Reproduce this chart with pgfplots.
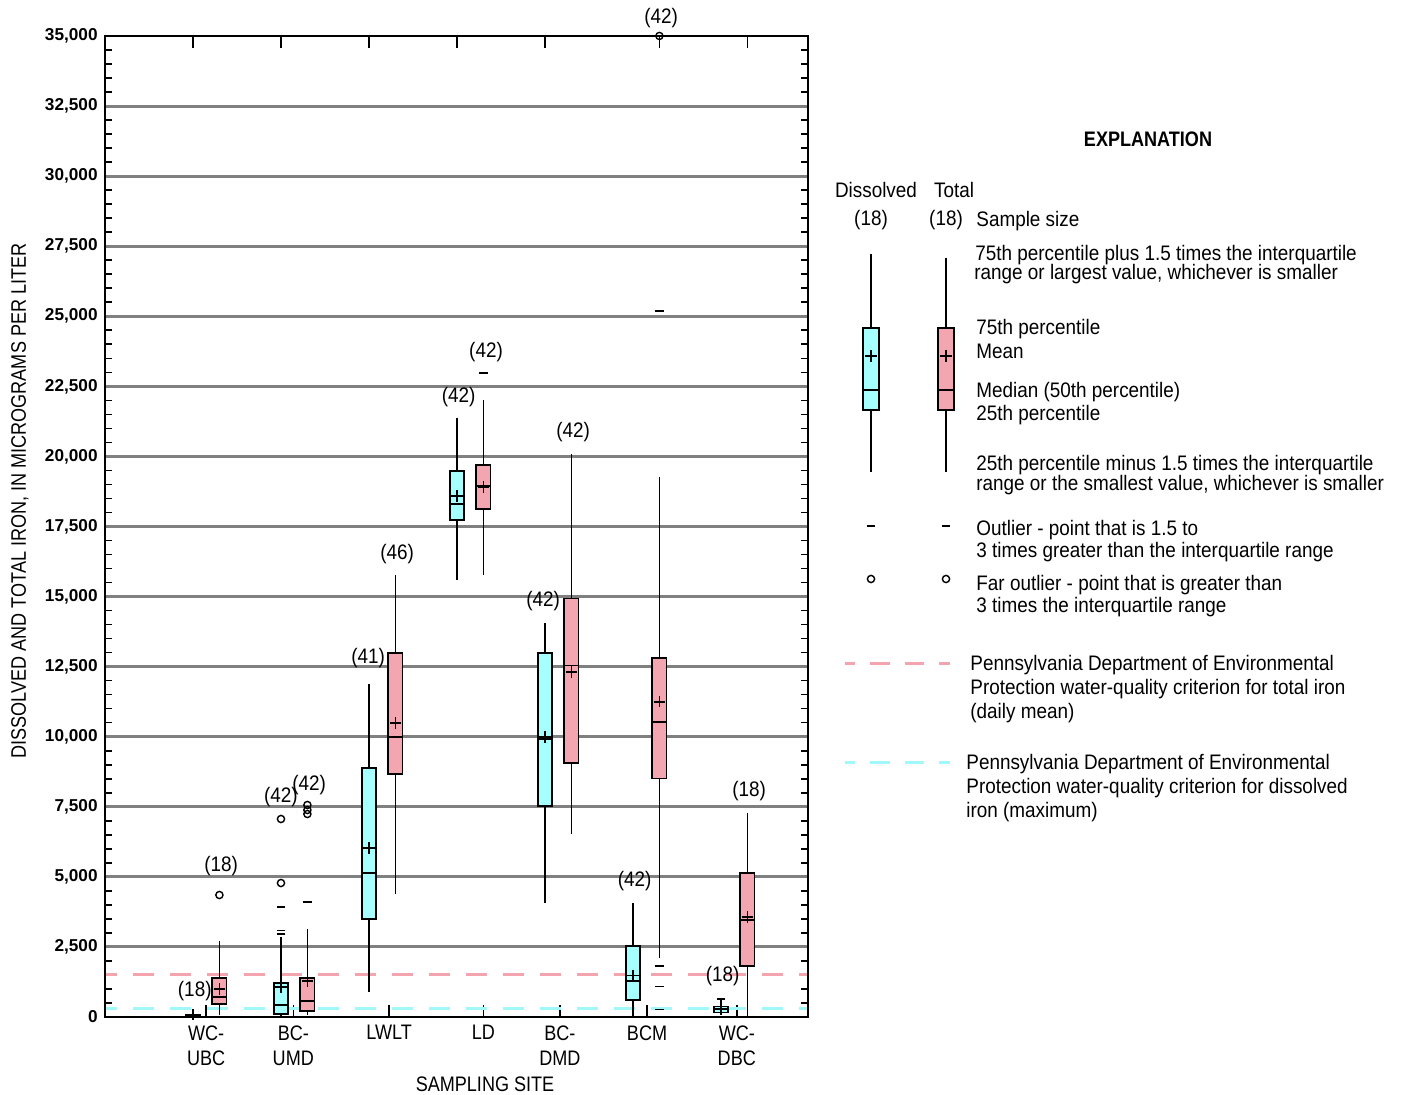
\documentclass[border=0pt]{standalone}
\usepackage{pgfplots}
\pgfplotsset{compat=1.18}
\usepgfplotslibrary{statistics}
\usepackage{fontspec}
\setmainfont{Liberation Sans}[FakeStretch=0.9]
\newfontfamily\capsfont{Liberation Sans}[FakeStretch=0.86]
\newfontfamily\tickfont{Liberation Sans}

\definecolor{dissfill}{RGB}{166,255,255}
\definecolor{totfill}{RGB}{244,166,176}
\definecolor{critpink}{RGB}{244,164,174}
\definecolor{critcyan}{RGB}{160,248,250}
\definecolor{gridgray}{RGB}{128,128,128}

\pgfplotsset{
  sitebox/.style={draw=black, line width=0.9pt,
    boxplot/draw direction=y,
    boxplot/box extend=0.16, boxplot/whisker extend=0,
    boxplot/every whisker/.style={line width=0.8pt},
    boxplot/every median/.style={line width=0.9pt}},
  meanmark/.style={only marks, mark=+, mark size=2.8pt, mark options={line width=0.8pt}, draw=black},
  outdash/.style={only marks, mark=-, mark size=2.2pt, mark options={line width=0.8pt}, draw=black},
  outfar/.style={only marks, mark=o, mark size=1.8pt, mark options={line width=0.7pt}, draw=black},
}

\begin{document}
\fontsize{10.5}{12.5}\selectfont
\begin{tikzpicture}
\path (0,0) rectangle (703pt,547.5pt);

% ---------------- main chart ----------------
\begin{axis}[
  at={(52.5pt,39pt)}, anchor=south west,
  scale only axis, width=351.5pt, height=490.5pt,
  xmin=0, xmax=7.989, ymin=0, ymax=35000,
  clip=false,
  scaled y ticks=false,
  axis line style={line width=0.9pt},
  tick align=inside,
  tick style={line width=0.8pt, black},
  major tick length=6pt, minor tick length=3.5pt,
  xtick pos=left, ytick pos=both,
  xtick={1.15,2.14,3.23,4.30,5.17,6.16,7.18},
  xticklabels={{WC-\\UBC},{BC-\\UMD},LWLT,LD,{BC-\\DMD},BCM,{WC-\\DBC}},
  xticklabel style={align=center, font=\capsfont\fontsize{10.5}{12.5}\selectfont, inner sep=0pt, yshift=-4pt},
  ytick={0,2500,5000,7500,10000,12500,15000,17500,20000,22500,25000,27500,30000,32500,35000},
  yticklabels={{0\hspace{5.5pt}},{2,500},{5,000},{7,500},{10,000},{12,500},{15,000},{17,500},{20,000},{22,500},{25,000},{27,500},{30,000},{32,500},{35,000}},
  yticklabel style={font=\tickfont\bfseries\fontsize{8.6}{10}\selectfont, inner sep=0pt, xshift=-3.5pt},
  minor y tick num=4,
  extra y ticks={2500,5000,7500,10000,12500,15000,17500,20000,22500,25000,27500,30000,32500},
  extra y tick labels={},
  extra y tick style={grid=major, major tick length=0pt},
  major grid style={line width=1.5pt, gridgray},
]
% water-quality criteria
\addplot[critpink, line width=1.5pt, dash pattern=on 10.5pt off 8pt, dash phase=4.5pt] coordinates {(0,1500) (7.989,1500)};
\addplot[critcyan, line width=1.5pt, dash pattern=on 10.5pt off 8pt, dash phase=4.5pt] coordinates {(0,300) (7.989,300)};

% dissolved iron
\addplot[sitebox, fill=dissfill, boxplot prepared={draw position=1, lower whisker=0, lower quartile=30, median=60, upper quartile=90, upper whisker=170}] coordinates {};
\addplot[sitebox, fill=dissfill, boxplot prepared={draw position=2, lower whisker=20, lower quartile=107, median=428, upper quartile=1213, upper whisker=2854}] coordinates {};
\addplot[sitebox, fill=dissfill, boxplot prepared={draw position=3, lower whisker=892, lower quartile=3496, median=5137, upper quartile=8883, upper whisker=11880}] coordinates {};
\addplot[sitebox, fill=dissfill, boxplot prepared={draw position=4, lower whisker=15590, lower quartile=17731, median=18302, upper quartile=19479, upper whisker=21370}] coordinates {};
\addplot[sitebox, fill=dissfill, boxplot prepared={draw position=5, lower whisker=4067, lower quartile=7528, median=9918, upper quartile=12986, upper whisker=14056}] coordinates {};
\addplot[sitebox, fill=dissfill, boxplot prepared={draw position=6, lower whisker=0, lower quartile=620, median=1290, upper quartile=2540, upper whisker=4070}] coordinates {};
\addplot[sitebox, fill=dissfill, line width=0.7pt, boxplot prepared={draw position=7, lower whisker=100, lower quartile=170, median=270, upper quartile=370, upper whisker=642}] coordinates {};

% total iron
\addplot[sitebox, fill=totfill, boxplot prepared={draw position=1.3, lower whisker=70, lower quartile=464, median=714, upper quartile=1391, upper whisker=2711}] coordinates {};
\addplot[sitebox, fill=totfill, boxplot prepared={draw position=2.3, lower whisker=70, lower quartile=214, median=571, upper quartile=1391, upper whisker=3140}] coordinates {};
\addplot[sitebox, fill=totfill, boxplot prepared={draw position=3.3, lower whisker=4388, lower quartile=8669, median=9989, upper quartile=12986, upper whisker=15769}] coordinates {};
\addplot[sitebox, fill=totfill, boxplot prepared={draw position=4.3, lower whisker=15769, lower quartile=18124, median=18944, upper quartile=19693, upper whisker=22012}] coordinates {};
\addplot[sitebox, fill=totfill, boxplot prepared={draw position=5.3, lower whisker=6530, lower quartile=9071, median=12541, upper quartile=14932, upper whisker=20096}] coordinates {};
\addplot[sitebox, fill=totfill, boxplot prepared={draw position=6.3, lower whisker=2117, lower quartile=8512, median=10534, upper quartile=12815, upper whisker=19249}] coordinates {};
\addplot[sitebox, fill=totfill, boxplot prepared={draw position=7.3, lower whisker=50, lower quartile=1820, median=3460, upper quartile=5137, upper whisker=7278}] coordinates {};

% means
\addplot[meanmark] coordinates {(1,90) (2,1070) (3,6029) (4,18587) (5,9989) (6,1480) (7,285)};
\addplot[meanmark] coordinates {(1.3,999) (2.3,1284) (3.3,10489) (4.3,18908) (5.3,12309) (6.3,11244) (7.3,3568)};

% outliers (1.5 to 3 IQR)
\addplot[outdash, mark options={line width=0.6pt}] coordinates {(2,2960) (2,3100) (2,3924) (7,642)};
\addplot[outdash] coordinates {(2.3,4103) (4.3,22975) (6.3,273) (6.3,1093) (6.3,1817) (6.3,25187)};
% far outliers (> 3 IQR)
\addplot[outfar] coordinates {(2,4780) (2,7064)};
\addplot[outfar] coordinates {(1.3,4352) (2.3,7242) (2.3,7385) (2.3,7563) (6.3,35000)};

% sample sizes
\begin{scope}[every node/.style={font=\fontsize{10.5}{12.5}\selectfont, inner sep=0pt}]
\node at (axis cs:1.02,928) {(18)};
\node at (axis cs:1.32,5387) {(18)};
\node at (axis cs:2.0,7849) {(42)};
\node at (axis cs:2.32,8277) {(42)};
\node at (axis cs:2.99,12808) {(41)};
\node at (axis cs:3.32,16518) {(46)};
\node at (axis cs:4.02,22119) {(42)};
\node at (axis cs:4.33,23725) {(42)};
\node at (axis cs:4.98,14841) {(42)};
\node at (axis cs:5.32,20871) {(42)};
\node at (axis cs:6.02,4852) {(42)};
\node at (axis cs:6.32,35650) {(42)};
\node at (axis cs:7.02,1463) {(18)};
\node at (axis cs:7.32,8063) {(18)};
\end{scope}
\end{axis}

% top-edge ticks
\begin{axis}[
  at={(52.5pt,39pt)}, anchor=south west,
  scale only axis, width=351.5pt, height=490.5pt,
  xmin=0, xmax=7.989, ymin=0, ymax=35000,
  axis line style={line width=0.9pt},
  tick align=inside, tick style={line width=0.8pt, black},
  major tick length=6pt,
  xtick pos=right, xtick={1,2,3,4,5,6.3,7.3}, xticklabels={},
  ytick=\empty,
]
\end{axis}

% ---------------- explanation glyphs ----------------
\begin{axis}[
  at={(410pt,157.5pt)}, anchor=south west,
  scale only axis, width=90pt, height=270pt,
  xmin=820, xmax=1000, ymin=240, ymax=780, y dir=reverse,
  hide axis, clip=false,
]
\addplot[sitebox, fill=dissfill, boxplot/box extend=16, boxplot prepared={draw position=871, lower whisker=254, lower quartile=328, median=390, upper quartile=410, upper whisker=472}] coordinates {};
\addplot[sitebox, fill=totfill, boxplot/box extend=16, boxplot prepared={draw position=946, lower whisker=258, lower quartile=328, median=390, upper quartile=410, upper whisker=472}] coordinates {};
\addplot[meanmark, mark size=3pt] coordinates {(871,356) (946,356)};
\addplot[outdash] coordinates {(871,526) (946,526)};
\addplot[outfar] coordinates {(871,579) (946,579)};
\addplot[critpink, line width=1.5pt, dash pattern=on 9.75pt off 7.5pt, dash phase=4.75pt] coordinates {(845,664) (950,664)};
\addplot[critcyan, line width=1.5pt, dash pattern=on 9.75pt off 7.5pt, dash phase=4.75pt] coordinates {(845,763) (950,763)};
\end{axis}

% ---------------- texts ----------------
\begin{scope}[x=0.5pt, y=-0.5pt, shift={(0,547.5pt)},
  every node/.style={inner sep=0pt, font=\fontsize{10.5}{12.5}\selectfont},
  lt/.style={anchor=base west}, ct/.style={anchor=base}]
\node[rotate=90, font=\capsfont\fontsize{10.5}{12.5}\selectfont] at (20,501) {DISSOLVED AND TOTAL IRON, IN MICROGRAMS PER LITER};
\node[ct, font=\capsfont\fontsize{10.5}{12.5}\selectfont] at (485,1091.5) {SAMPLING SITE};

\node[ct, font=\capsfont\bfseries\fontsize{10.5}{12.5}\selectfont] at (1148,146.5) {EXPLANATION};
\node[ct] at (876,197.5) {Dissolved};
\node[ct] at (954,197.5) {Total};
\node[ct] at (871,225.5) {(18)};
\node[ct] at (946,225.5) {(18)};
\node[lt] at (976,226.5) {Sample size};
\node[lt] at (975,260.5) {75th percentile plus 1.5 times the interquartile};
\node[lt] at (974,279.5) {range or largest value, whichever is smaller};
\node[lt] at (976,334.5) {75th percentile};
\node[lt] at (976,358.5) {Mean};
\node[lt] at (976,397.5) {Median (50th percentile)};
\node[lt] at (976,420.5) {25th percentile};
\node[lt] at (976,470.5) {25th percentile minus 1.5 times the interquartile};
\node[lt] at (976,490.5) {range or the smallest value, whichever is smaller};
\node[lt] at (976,535.5) {Outlier - point that is 1.5 to};
\node[lt] at (976,557.5) {3 times greater than the interquartile range};
\node[lt] at (976,590.5) {Far outlier - point that is greater than};
\node[lt] at (976,612.5) {3 times the interquartile range};
\node[lt] at (970,670.5) {Pennsylvania Department of Environmental};
\node[lt] at (970,694.5) {Protection water-quality criterion for total iron};
\node[lt] at (970,718.5) {(daily mean)};
\node[lt] at (966,769.5) {Pennsylvania Department of Environmental};
\node[lt] at (966,793.5) {Protection water-quality criterion for dissolved};
\node[lt] at (966,817.5) {iron (maximum)};
\end{scope}
\end{tikzpicture}
\end{document}
